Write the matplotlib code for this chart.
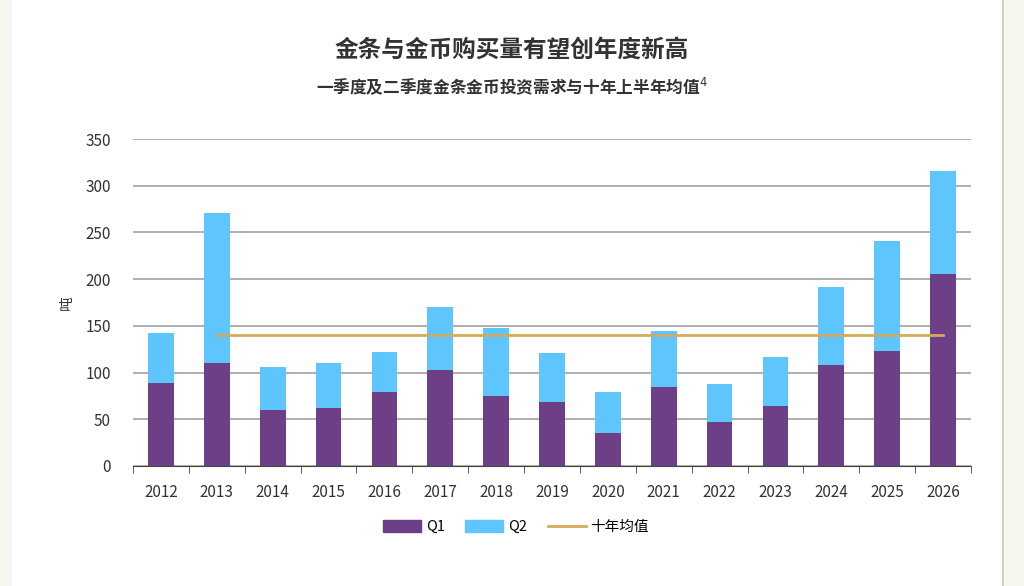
import numpy as np
import matplotlib.pyplot as plt
from matplotlib.patches import Rectangle, Patch
from matplotlib.lines import Line2D

plt.rcParams['font.family'] = ['Noto Sans CJK SC', 'DejaVu Sans']

# 数据（吨）
years = ['2012', '2013', '2014', '2015', '2016', '2017', '2018', '2019',
         '2020', '2021', '2022', '2023', '2024', '2025', '2026']
q1 = [89, 110, 60, 62, 79, 103, 75, 69, 35, 85, 47, 64, 108, 123, 206]
q2 = [53, 161, 46, 48, 43, 67, 73, 52, 44, 60, 41, 53, 84, 118, 110]
avg_10y = 140

c_q1 = '#6c3f86'
c_q2 = '#5fc6fd'
c_avg = '#d4aa5c'

fig = plt.figure(figsize=(10.24, 5.86), dpi=100)
fig.patch.set_facecolor('white')
# 左右两侧的米色边
fig.patches.append(Rectangle((0, 0), 12 / 1024, 1, transform=fig.transFigure,
                             facecolor='#f7f6ef', edgecolor='none', zorder=-1))
fig.patches.append(Rectangle((1003 / 1024, 0), 21 / 1024, 1, transform=fig.transFigure,
                             facecolor='#f7f6ef', edgecolor='none', zorder=-1))
fig.lines.append(Line2D([1003 / 1024, 1003 / 1024], [0, 1], transform=fig.transFigure,
                        color='#c9c9c2', lw=1.2))

ax = fig.add_axes([133 / 1024, 1 - 466 / 586, 838 / 1024, 327 / 586])

x = np.arange(len(years))
ax.bar(x, q1, width=0.46, color=c_q1, zorder=3)
ax.bar(x, q2, width=0.46, bottom=q1, color=c_q2, zorder=3)
ax.plot([x[1], x[-1]], [avg_10y, avg_10y], color=c_avg, lw=2, zorder=4)

ax.set_xlim(-0.5, len(years) - 0.5)
ax.set_ylim(0, 350)
ax.set_yticks(range(0, 351, 50))
ax.yaxis.grid(True, color='#a9a9a9', lw=1.3)
ax.set_axisbelow(True)
ax.tick_params(axis='y', length=0, labelsize=11, colors='#333333', pad=16)

ax.set_xticks(x)
ax.set_xticklabels(years, fontsize=11, color='#333333')
ax.set_xticks(np.arange(-0.5, len(years), 1), minor=True)
ax.tick_params(axis='x', which='major', length=0, pad=13)
ax.tick_params(axis='x', which='minor', length=5, color='#444444', direction='out')

for s in ['top', 'right', 'left']:
    ax.spines[s].set_visible(False)
ax.spines['bottom'].set_color('#444444')

ax.set_ylabel('吨', fontsize=10.5, color='#333333', labelpad=8)

fig.text(0.5, 1 - 50 / 586, '金条与金币购买量有望创年度新高', ha='center', va='center',
         fontsize=17, fontweight='bold', color='#333333')
fig.text(0.5, 1 - 86 / 586, '一季度及二季度金条金币投资需求与十年上半年均值$^{4}$', ha='center',
         va='center', fontsize=12, fontweight='bold', color='#333333')

handles = [Patch(color=c_q1, label='Q1'), Patch(color=c_q2, label='Q2'),
           Line2D([0], [0], color=c_avg, lw=2, label='十年均值')]
fig.legend(handles=handles, loc='center', bbox_to_anchor=(516 / 1024, 1 - 527 / 586),
           ncol=3, frameon=False, fontsize=10.5, handlelength=2.6, handleheight=0.9,
           columnspacing=1.4, handletextpad=0.35)

plt.savefig('out.png', dpi=100)
